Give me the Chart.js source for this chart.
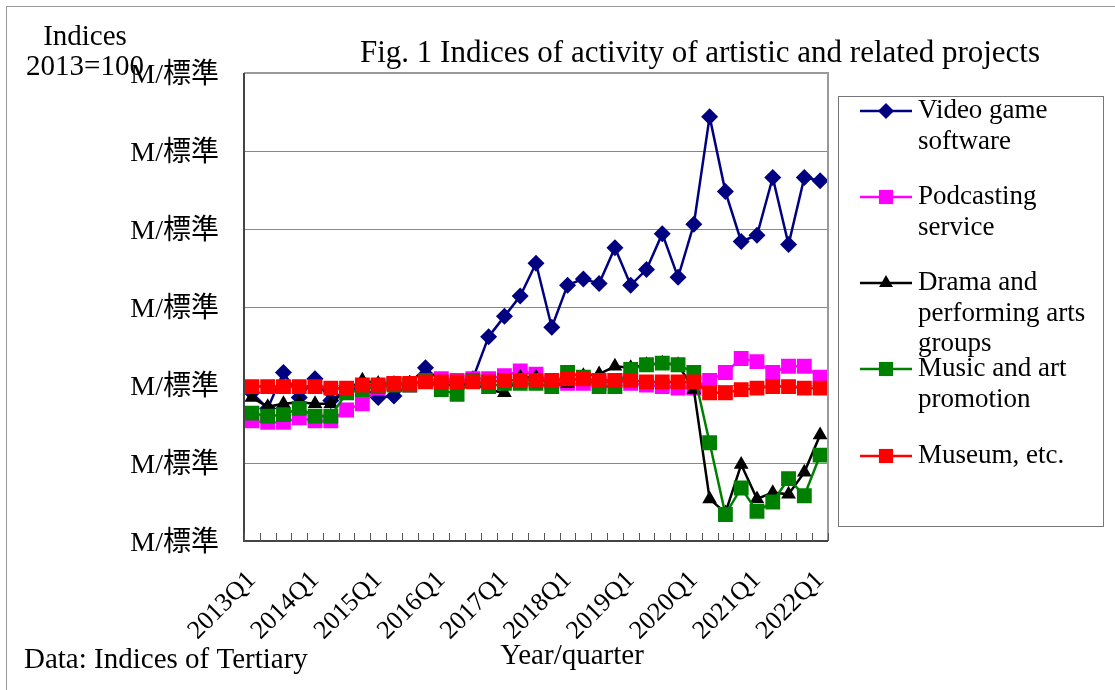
<!DOCTYPE html>
<html>
<head>
<meta charset="utf-8">
<script src="https://cdn.jsdelivr.net/npm/chart.js@4"></script>
<style>
  html, body { margin: 0; padding: 0; background: #fff; }
  #wrap { position: relative; width: 1115px; height: 690px; }
</style>
</head>
<body>
<div id="wrap"><canvas id="chart"></canvas></div>
<script>
const quarters = [
  "2013Q1", "2013Q2", "2013Q3", "2013Q4",
  "2014Q1", "2014Q2", "2014Q3", "2014Q4",
  "2015Q1", "2015Q2", "2015Q3", "2015Q4",
  "2016Q1", "2016Q2", "2016Q3", "2016Q4",
  "2017Q1", "2017Q2", "2017Q3", "2017Q4",
  "2018Q1", "2018Q2", "2018Q3", "2018Q4",
  "2019Q1", "2019Q2", "2019Q3", "2019Q4",
  "2020Q1", "2020Q2", "2020Q3", "2020Q4",
  "2021Q1", "2021Q2", "2021Q3", "2021Q4",
  "2022Q1"
];

const videoGame = [95, 85, 108, 92, 104, 90, 97, 99, 92, 93, 101, 111, 102, 102, 104, 131, 144, 157, 178, 137,
  164, 168, 165, 188, 164, 174, 197, 169, 203, 272, 224, 192, 196, 233, 190, 233, 231];
const podcasting = [77, 76, 76, 79, 77, 77, 84, 88, 98, 101, 100, 103, 104, 103, 104, 104, 106, 109, 107, 102,
  101, 101, 101, 103, 101, 100, 99, 98, 98, 103, 108, 117, 115, 108, 112, 112, 105];
const drama = [92, 86, 88, 89, 88, 88, 97, 103, 101, 101, 101, 102, 100, 100, 101, 97, 95, 105, 105, 100,
  101, 106, 107, 112, 111, 113, 114, 113, 97, 27, 18, 49, 27, 31, 30, 44, 68];
const musicArt = [82, 80, 81, 85, 80, 80, 95, 97, 99, 100, 100, 103, 97, 94, 103, 99, 101, 101, 101, 99,
  108, 105, 99, 99, 110, 113, 114, 113, 108, 63, 17, 34, 19, 25, 40, 29, 55];
const museum = [99, 99, 99, 99, 99, 98, 98, 100, 100, 101, 101, 102, 102, 102, 102, 102, 103, 103, 103, 103,
  104, 104, 103, 103, 103, 102, 102, 102, 102, 95, 95, 97, 98, 99, 99, 98, 98];

const yTicks = [0, 50, 100, 150, 200, 250, 300];
const yTickText = "M/標準";

const seriesNames = [
  ["Video game", "software"],
  ["Podcasting", "service"],
  ["Drama and", "performing arts", "groups"],
  ["Music and art", "promotion"],
  ["Museum, etc."]
];

const serif = "'Liberation Serif', 'Times New Roman', 'Noto Sans CJK JP', serif";

const series = [
  { data: videoGame, color: "#000080", style: "rectRot", radius: 8.5 },
  { data: podcasting, color: "#FF00FF", style: "rect", radius: 10.5 },
  { data: drama, color: "#000000", style: "triangle", radius: 8.5 },
  { data: musicArt, color: "#008000", style: "rect", radius: 10.5 },
  { data: museum, color: "#FF0000", style: "rect", radius: 10.5 }
];

const datasets = series.map((s, i) => ({
  label: seriesNames[i].join(" "),
  data: s.data,
  borderColor: s.color,
  backgroundColor: s.color,
  pointBackgroundColor: s.color,
  pointBorderColor: s.color,
  pointBorderWidth: 0,
  pointStyle: s.style,
  pointRadius: s.radius,
  pointHoverRadius: s.radius,
  borderWidth: 2.5,
  tension: 0,
  fill: false,
  order: series.length - i
}));

function drawMarker(ctx, style, radius, x, y) {
  if (Chart.helpers && Chart.helpers.drawPoint) {
    Chart.helpers.drawPoint(ctx, { pointStyle: style, radius: radius, rotation: 0, borderWidth: 0 }, x, y);
    return;
  }
  ctx.beginPath();
  if (style === "rectRot") {
    ctx.moveTo(x, y - radius); ctx.lineTo(x + radius, y); ctx.lineTo(x, y + radius); ctx.lineTo(x - radius, y);
  } else if (style === "triangle") {
    ctx.moveTo(x, y - radius); ctx.lineTo(x + radius * 0.866, y + radius / 2); ctx.lineTo(x - radius * 0.866, y + radius / 2);
  } else {
    const s = radius * Math.SQRT1_2;
    ctx.rect(x - s, y - s, 2 * s, 2 * s);
  }
  ctx.closePath();
  ctx.fill();
}

const decor = {
  id: "decor",
  beforeDraw(chart) {
    const ctx = chart.ctx;
    ctx.save();
    ctx.fillStyle = "#fff";
    ctx.fillRect(0, 0, chart.width, chart.height);
    ctx.restore();
  },
  afterDraw(chart) {
    const { ctx, chartArea: a, scales: { x } } = chart;
    ctx.save();

    // plot frame
    ctx.lineWidth = 2;
    ctx.strokeStyle = "#9a9a9a";
    ctx.beginPath();
    ctx.moveTo(a.left, a.top); ctx.lineTo(a.right, a.top); ctx.lineTo(a.right, a.bottom);
    ctx.stroke();
    ctx.strokeStyle = "#444";
    ctx.beginPath();
    ctx.moveTo(a.left, a.top); ctx.lineTo(a.left, a.bottom); ctx.lineTo(a.right, a.bottom);
    ctx.stroke();

    // small inner ticks between quarters
    ctx.lineWidth = 1;
    ctx.strokeStyle = "#555";
    ctx.beginPath();
    for (let k = 0; k <= quarters.length; k++) {
      const px = Math.round(x.getPixelForValue(k - 0.5)) + 0.5;
      ctx.moveTo(px, a.bottom);
      ctx.lineTo(px, a.bottom - 8);
    }
    ctx.stroke();

    // outer frame
    ctx.strokeStyle = "#999";
    ctx.lineWidth = 1;
    ctx.strokeRect(6.5, 6.5, 1120, 700);

    // texts
    ctx.fillStyle = "#000";
    ctx.textBaseline = "middle";
    ctx.textAlign = "center";
    ctx.font = "31px " + serif;
    ctx.fillText("Fig. 1 Indices of activity of artistic and related projects", 700, 54);
    ctx.font = "29px " + serif;
    ctx.fillText("Indices", 85, 37);
    ctx.fillText("2013=100", 85, 67);
    ctx.fillText("Year/quarter", 572, 656);
    ctx.textAlign = "left";
    ctx.fillText("Data: Indices of Tertiary", 24, 660);

    // legend
    ctx.strokeStyle = "#777";
    ctx.lineWidth = 1;
    ctx.strokeRect(838.5, 96.5, 265, 430);
    const rowY = [111, 197, 283, 369, 456];
    ctx.font = "27px " + serif;
    series.forEach((s, i) => {
      const y = rowY[i];
      ctx.strokeStyle = s.color;
      ctx.fillStyle = s.color;
      ctx.lineWidth = 2.5;
      ctx.beginPath();
      ctx.moveTo(860, y); ctx.lineTo(912, y);
      ctx.stroke();
      drawMarker(ctx, s.style, s.style === "rect" ? 10 : 8, 886, y);
      ctx.fillStyle = "#000";
      ctx.textAlign = "left";
      seriesNames[i].forEach((line, j) => ctx.fillText(line, 918, y + j * 30.5));
    });

    ctx.restore();
  }
};

new Chart(document.getElementById("chart"), {
  type: "line",
  data: { labels: quarters, datasets: datasets },
  options: {
    responsive: true,
    maintainAspectRatio: false,
    animation: false,
    layout: { padding: { top: 73, right: 287, bottom: 0, left: 0 } },
    plugins: {
      legend: { display: false },
      title: { display: false },
      tooltip: { enabled: false }
    },
    scales: {
      x: {
        offset: true,
        grid: { display: false },
        border: { display: false },
        afterFit(scale) { scale.height = 149; },
        ticks: {
          autoSkip: false,
          minRotation: 45,
          maxRotation: 45,
          padding: 16,
          color: "#000",
          font: { family: serif, size: 26 },
          callback: (v, i) => (i % 4 === 0 ? quarters[i] : "")
        }
      },
      y: {
        min: yTicks[0],
        max: yTicks[yTicks.length - 1],
        afterFit(scale) { scale.width = 244; },
        afterBuildTicks(scale) { scale.ticks = yTicks.map(v => ({ value: v })); },
        grid: { color: "#888", lineWidth: 1, drawTicks: false },
        border: { display: false },
        ticks: {
          padding: 25,
          labelOffset: 3,
          color: "#000",
          font: { family: serif, size: 28 },
          callback: () => yTickText
        }
      }
    }
  },
  plugins: [decor]
});
</script>
</body>
</html>
